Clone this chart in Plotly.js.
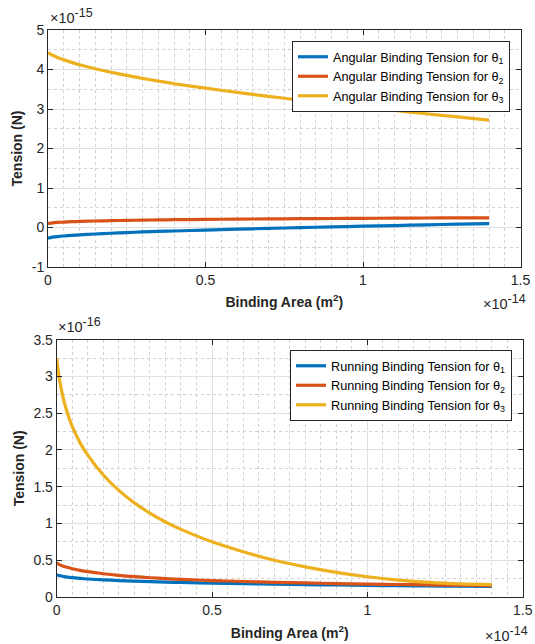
<!DOCTYPE html>
<html>
<head>
<meta charset="utf-8">
<script src="https://cdn.plot.ly/plotly-3.0.1.min.js"></script>
<style>
  html, body { margin: 0; padding: 0; background: #fff; }
  #chart { width: 535px; height: 644px; }
</style>
</head>
<body>
<div id="chart"></div>
<script>
// Binding area samples, in units of 1e-14 m^2 (shared by both panels)
const bindingArea = [0, 0.0075, 0.015, 0.03, 0.05, 0.075, 0.1, 0.15, 0.2, 0.25, 0.3, 0.35, 0.4,
                     0.5, 0.6, 0.7, 0.8, 0.9, 1.0, 1.1, 1.2, 1.3, 1.4];

// Angular binding tension, in units of 1e-15 N
const angularTheta1 = [-0.27, -0.255, -0.245, -0.23, -0.215, -0.2, -0.187, -0.165, -0.146, -0.129, -0.113, -0.1, -0.088,
                       -0.065, -0.043, -0.022, -0.003, 0.015, 0.033, 0.05, 0.067, 0.084, 0.10];
const angularTheta2 = [0.10, 0.11, 0.118, 0.128, 0.138, 0.147, 0.154, 0.165, 0.174, 0.181, 0.187, 0.192, 0.197,
                       0.205, 0.212, 0.218, 0.223, 0.228, 0.232, 0.236, 0.24, 0.243, 0.246];
const angularTheta3 = [4.43, 4.39, 4.36, 4.305, 4.245, 4.18, 4.12, 4.02, 3.93, 3.85, 3.775, 3.705, 3.64,
                       3.53, 3.42, 3.32, 3.225, 3.135, 3.05, 2.965, 2.88, 2.8, 2.72];

// Running binding tension, in units of 1e-16 N
const runningTheta1 = [0.30, 0.292, 0.285, 0.274, 0.263, 0.253, 0.245, 0.233, 0.224, 0.216, 0.209, 0.203, 0.198,
                       0.189, 0.181, 0.174, 0.168, 0.163, 0.158, 0.154, 0.15, 0.147, 0.144];
const runningTheta2 = [0.46, 0.443, 0.428, 0.407, 0.385, 0.363, 0.345, 0.316, 0.294, 0.277, 0.262, 0.25, 0.24,
                       0.224, 0.211, 0.2, 0.191, 0.183, 0.176, 0.17, 0.165, 0.16, 0.156];
const runningTheta3 = [3.25, 3.00, 2.82, 2.56, 2.32, 2.10, 1.93, 1.66, 1.45, 1.28, 1.14, 1.02, 0.92,
                       0.75, 0.615, 0.50, 0.41, 0.335, 0.275, 0.23, 0.198, 0.178, 0.167];

// Tick labels
const areaTicks = [0, 0.5, 1, 1.5];
const areaTickText = ['0', '0.5', '1', '1.5'];
const angularTicks = [-1, 0, 1, 2, 3, 4, 5];
const angularTickText = ['-1', '0', '1', '2', '3', '4', '5'];
const runningTicks = [0, 0.5, 1, 1.5, 2, 2.5, 3, 3.5];
const runningTickText = ['0', '0.5', '1', '1.5', '2', '2.5', '3', '3.5'];

const colors = ['#0072BD', '#D95319', '#EDB120'];
const FONT = '"Liberation Sans", Arial, Helvetica, sans-serif';
const INK = '#262626';

function series(y, name, color, xa, ya, legend) {
  return {
    x: bindingArea, y: y, name: name, type: 'scatter', mode: 'lines',
    line: {color: color, width: 3.2, shape: 'spline', smoothing: 0.8},
    xaxis: xa, yaxis: ya, legend: legend
  };
}

const traces = [
  series(angularTheta1, 'Angular Binding Tension for θ<sub>1</sub>', colors[0], 'x', 'y', 'legend'),
  series(angularTheta2, 'Angular Binding Tension for θ<sub>2</sub>', colors[1], 'x', 'y', 'legend'),
  series(angularTheta3, 'Angular Binding Tension for θ<sub>3</sub>', colors[2], 'x', 'y', 'legend'),
  series(runningTheta1, 'Running Binding Tension for θ<sub>1</sub>', colors[0], 'x2', 'y2', 'legend2'),
  series(runningTheta2, 'Running Binding Tension for θ<sub>2</sub>', colors[1], 'x2', 'y2', 'legend2'),
  series(runningTheta3, 'Running Binding Tension for θ<sub>3</sub>', colors[2], 'x2', 'y2', 'legend2')
];

const minorGrid = {showgrid: true, gridcolor: '#d2d2d2', griddash: 'dot', gridwidth: 1, ticks: ''};

function axis(extra) {
  return Object.assign({
    ticks: 'inside', ticklen: 5, tickwidth: 1, tickcolor: INK,
    showline: true, linecolor: INK, linewidth: 1, mirror: 'ticks',
    showgrid: true, gridcolor: '#e0e0e0', gridwidth: 1,
    zeroline: false, automargin: false,
    tickfont: {family: FONT, size: 14, color: INK},
    tickmode: 'array'
  }, extra);
}

const titleFont = {family: FONT, size: 14, color: INK, weight: 'bold'};
const legendFont = {family: FONT, size: 12.7, color: '#000'};
const expFont = {family: FONT, size: 14.5, color: INK};

// Axis multiplier label, e.g. ×10^-15, with a near full-size exponent
function multiplier(power) {
  return '×10<sup><span style="font-size:12.5px">' + power + '</span></sup>';
}

const layout = {
  width: 535, height: 644,
  margin: {l: 0, r: 0, t: 0, b: 0},
  paper_bgcolor: '#fff', plot_bgcolor: '#fff',
  showlegend: true,
  font: {family: FONT, color: INK},
  xaxis: axis({
    domain: [48 / 535, 520.5 / 535], anchor: 'y', range: [0, 1.5],
    tickvals: areaTicks, ticktext: areaTickText,
    minor: Object.assign({dtick: 0.05, tick0: 0}, minorGrid),
    title: {text: 'Binding Area (m<sup>2</sup>)', font: titleFont, standoff: 10}
  }),
  yaxis: axis({
    domain: [1 - 267 / 644, 1 - 30 / 644], anchor: 'x', range: [-1, 5],
    tickvals: angularTicks, ticktext: angularTickText,
    minor: Object.assign({dtick: 0.5, tick0: 0}, minorGrid),
    title: {text: 'Tension (N)', font: titleFont, standoff: 5}
  }),
  xaxis2: axis({
    domain: [56.7 / 535, 522.7 / 535], anchor: 'y2', range: [0, 1.5],
    tickvals: areaTicks, ticktext: areaTickText,
    minor: Object.assign({dtick: 0.05, tick0: 0}, minorGrid),
    title: {text: 'Binding Area (m<sup>2</sup>)', font: titleFont, standoff: 11}
  }),
  yaxis2: axis({
    domain: [1 - 597 / 644, 1 - 339.7 / 644], anchor: 'x2', range: [0, 3.5],
    tickvals: runningTicks, ticktext: runningTickText,
    minor: Object.assign({dtick: 0.25, tick0: 0}, minorGrid),
    title: {text: 'Tension (N)', font: titleFont, standoff: 5}
  }),
  legend: {
    x: 292 / 535, y: 1 - 41 / 644, xanchor: 'left', yanchor: 'top',
    bgcolor: '#fff', bordercolor: INK, borderwidth: 1,
    font: legendFont, tracegroupgap: 0, itemwidth: 30
  },
  legend2: {
    x: 290 / 535, y: 1 - 350 / 644, xanchor: 'left', yanchor: 'top',
    bgcolor: '#fff', bordercolor: INK, borderwidth: 1,
    font: legendFont, tracegroupgap: 0, itemwidth: 30
  },
  annotations: [
    {text: multiplier('-15'), xref: 'paper', yref: 'paper', x: 48 / 535, y: 1 - 28 / 644,
     xanchor: 'left', yanchor: 'bottom', showarrow: false, font: expFont},
    {text: multiplier('-14'), xref: 'paper', yref: 'paper', x: 528 / 535, y: 1 - 290 / 644,
     xanchor: 'right', yanchor: 'top', showarrow: false, font: expFont},
    {text: multiplier('-16'), xref: 'paper', yref: 'paper', x: 56 / 535, y: 1 - 337 / 644,
     xanchor: 'left', yanchor: 'bottom', showarrow: false, font: expFont},
    {text: multiplier('-14'), xref: 'paper', yref: 'paper', x: 530 / 535, y: 1 - 622 / 644,
     xanchor: 'right', yanchor: 'top', showarrow: false, font: expFont}
  ]
};

Plotly.newPlot('chart', traces, layout, {staticPlot: true, displayModeBar: false});
</script>
</body>
</html>
